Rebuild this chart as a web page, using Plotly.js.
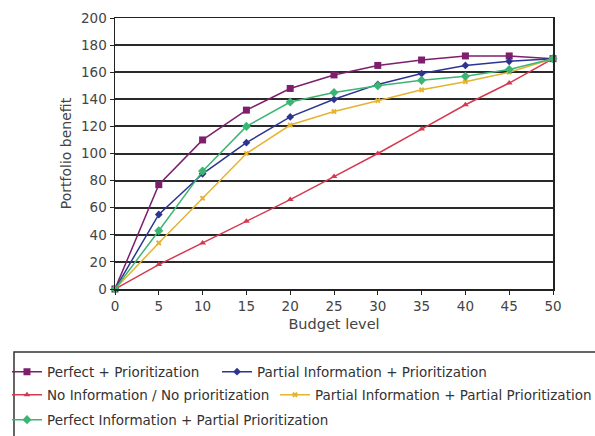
<!DOCTYPE html>
<html>
<head>
<meta charset="utf-8">
<script src="https://cdn.plot.ly/plotly-3.0.1.min.js"></script>
<style>
  html, body { margin: 0; padding: 0; background: #fff; }
  #chart { width: 595px; height: 436px; }
</style>
</head>
<body>
<div id="chart"></div>
<script>
// Budget levels on the x axis
const budget = [0, 5, 10, 15, 20, 25, 30, 35, 40, 45, 50];

// Portfolio benefit per strategy
const perfectPrio        = [0, 77, 110, 132, 148, 158, 165, 169, 172, 172, 170];
const partialInfoPrio    = [0, 55, 85, 108, 127, 140, 151, 159, 165, 168, 170];
const noInfoNoPrio       = [0, 18, 34, 50, 66, 83, 100, 118, 136, 152, 170];
const partialInfoPartial = [0, 34, 67, 100, 121, 131, 139, 147, 153, 160, 170];
const perfectInfoPartial = [0, 43, 87, 120, 138, 145, 150, 154, 157, 162, 170];

const seriesNames = [
  'Perfect + Prioritization',
  'Partial Information + Prioritization',
  'No Information / No prioritization',
  'Partial Information + Partial Prioritization',
  'Perfect Information + Partial Prioritization'
];

const yTicks = [0, 20, 40, 60, 80, 100, 120, 140, 160, 180, 200];
const xTicks = budget;

const FONT = 'DejaVu Sans, Arial, sans-serif';

function series(y, name, color, symbol, size, legendId) {
  return {
    x: budget, y: y, name: name, type: 'scatter', mode: 'lines+markers',
    line: { color: color, width: 1.5 },
    marker: { color: color, symbol: symbol, size: size },
    legend: legendId, cliponaxis: false
  };
}

const traces = [
  series(perfectPrio,        seriesNames[0], '#7d1f6c', 'square',      7, 'legend'),
  series(partialInfoPrio,    seriesNames[1], '#2d3590', 'diamond',     6, 'legend2'),
  series(noInfoNoPrio,       seriesNames[2], '#d6384f', 'triangle-up', 6, 'legend3'),
  series(partialInfoPartial, seriesNames[3], '#e6b32e', 'x',           5, 'legend4'),
  series(perfectInfoPartial, seriesNames[4], '#3cb574', 'diamond',     7, 'legend5')
];

// one single-entry legend per slot, laid out in three rows inside a framed box
function legendAt(x, y) {
  return {
    x: x, y: y, xanchor: 'left', yanchor: 'middle',
    orientation: 'h', bgcolor: 'rgba(0,0,0,0)', borderwidth: 0,
    font: { family: FONT, size: 13.5, color: '#333' },
    itemwidth: 30, tracegroupgap: 0
  };
}

const layout = {
  width: 595, height: 436,
  margin: { l: 115, r: 42, t: 18, b: 147, autoexpand: false },
  paper_bgcolor: '#fff', plot_bgcolor: '#fff',
  font: { family: FONT, size: 13, color: '#333' },
  showlegend: true,
  xaxis: {
    range: [0, 50], tickvals: xTicks, ticktext: xTicks.map(String),
    showgrid: false, zeroline: false, automargin: false,
    showline: true, linecolor: '#222', linewidth: 1.5, mirror: true,
    ticks: 'outside', ticklen: 4, tickcolor: '#222',
    tickfont: { family: FONT, size: 13.5, color: '#444' },
    title: { text: 'Budget level', font: { family: FONT, size: 14.5, color: '#444' }, standoff: 6 }
  },
  yaxis: {
    range: [0, 200], tickvals: yTicks, ticktext: yTicks.map(String),
    showgrid: true, gridcolor: '#2a2a2a', gridwidth: 2, zeroline: false, automargin: false,
    showline: true, linecolor: '#222', linewidth: 1.5, mirror: true,
    ticks: 'outside', ticklen: 4, tickcolor: '#222',
    tickfont: { family: FONT, size: 13.5, color: '#444' },
    title: { text: 'Portfolio benefit', font: { family: FONT, size: 14, color: '#444' }, standoff: 6 }
  },
  legend:  legendAt(-0.2466, -0.306),
  legend2: legendAt(0.2329, -0.306),
  legend3: legendAt(-0.2466, -0.391),
  legend4: legendAt(0.3653, -0.391),
  legend5: legendAt(-0.2466, -0.483),
  shapes: [{
    type: 'rect', xref: 'paper', yref: 'paper',
    x0: -0.2306, x1: 1.12, y0: -0.2325, y1: -0.57,
    line: { color: '#333', width: 1.5 }, fillcolor: 'rgba(0,0,0,0)', layer: 'below'
  }]
};

Plotly.newPlot('chart', traces, layout, { staticPlot: true, displayModeBar: false });
</script>
</body>
</html>
